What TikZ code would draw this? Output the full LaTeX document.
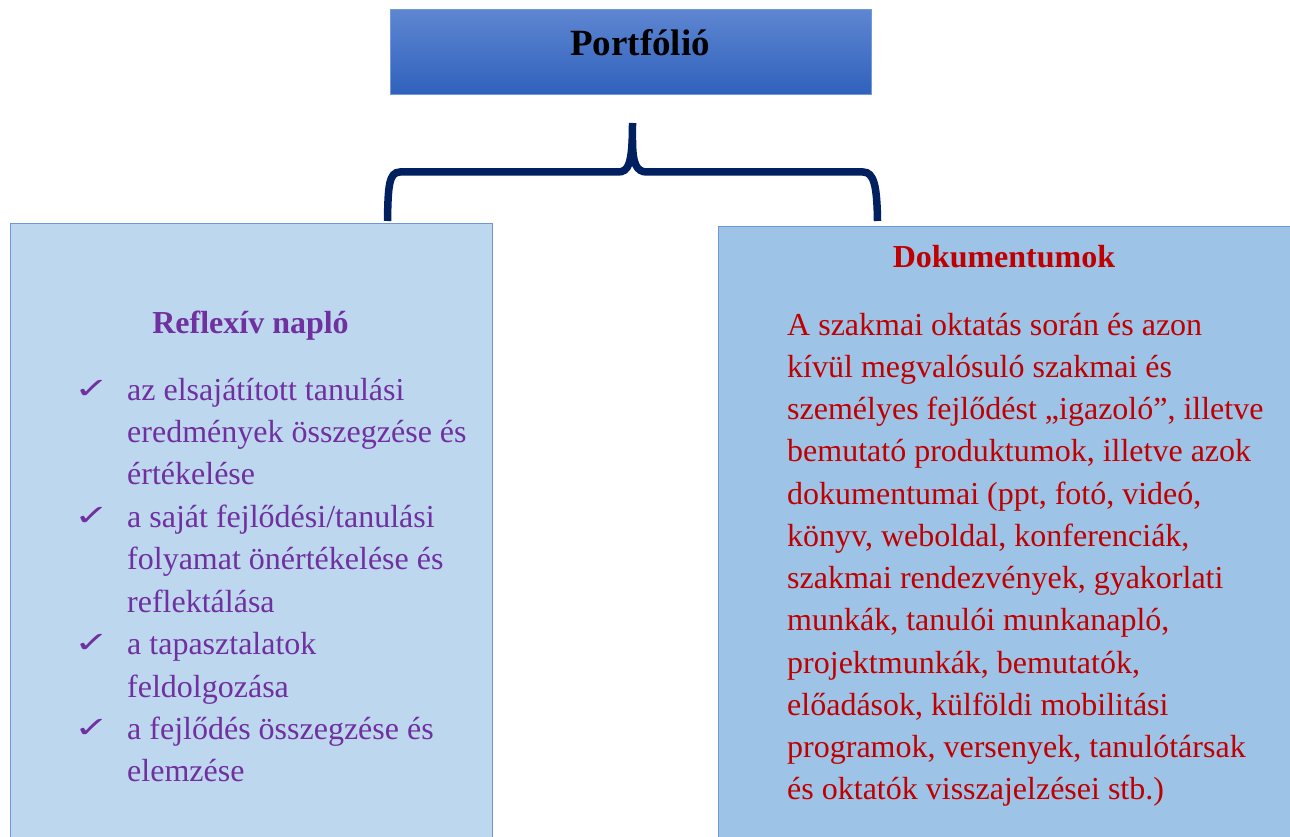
\documentclass[tikz,border=0pt]{standalone}
\usepackage{fontspec}
\setmainfont{Liberation Serif}
\newfontfamily\symfont{DejaVu Sans}
\definecolor{topA}{HTML}{5E86D1}
\definecolor{topB}{HTML}{2F61BC}
\definecolor{topBorder}{HTML}{7199DC}
\definecolor{leftFill}{HTML}{BDD7EE}
\definecolor{rightFill}{HTML}{9DC3E6}
\definecolor{boxBorder}{HTML}{6F96DA}
\definecolor{navy}{HTML}{002060}
\definecolor{purp}{HTML}{7030A0}
\definecolor{darkred}{HTML}{C00000}
\begin{document}
\begin{tikzpicture}[x=1pt,y=-1pt,
  topbox/.style={draw=topBorder, line width=1pt, top color=topA, bottom color=topB,
    minimum width=481pt, minimum height=85pt, inner sep=0pt},
  panel/.style={draw=boxBorder, line width=1.2pt, anchor=north west, inner sep=0pt,
    minimum height=700pt},
  brace/.style={draw=navy, line width=7.5pt},
  titletext/.style={font=\fontsize{37}{44}\selectfont\bfseries, text=black, anchor=base, inner sep=0pt},
  lhead/.style={font=\fontsize{32}{38}\selectfont\bfseries, text=purp, anchor=base, inner sep=0pt},
  rhead/.style={font=\fontsize{32}{38}\selectfont\bfseries, text=darkred, anchor=base, inner sep=0pt},
  ltext/.style={font=\fontsize{32}{38}\selectfont, text=purp, anchor=base west, inner sep=0pt},
  rtext/.style={font=\fontsize{32}{38}\selectfont, text=darkred, anchor=base west, inner sep=0pt},
  checkmark/.style={font=\fontsize{40}{46}\selectfont\symfont, text=purp, anchor=base west, inner sep=0pt}]
\useasboundingbox (0,0) rectangle (1290,837);
\clip (0,0) rectangle (1290,837);
\fill[white] (0,0) rectangle (1290,837);

% top box
\node[topbox] (top) at (630.5,52.5) {};
\node[titletext] (toplabel) at (640,56) {Portfólió};

% panels
\node[panel, fill=leftFill, minimum width=482pt] (left) at (10,223) {};
\node[panel, fill=rightFill, minimum width=600pt] (right) at (718,226) {};

% brace
\coordinate (stem) at (632.5,123);
\coordinate (lfoot) at (387.5,221);
\coordinate (rfoot) at (877.5,221);
\draw[brace] (lfoot) .. controls (388,186) and (389,172) .. (400,172) -- (618,172)
  .. controls (628.5,172) and (632.5,164) .. (stem);
\draw[brace] (632.5,140) .. controls (632.5,164) and (636.5,172) .. (647,172) -- (863,172)
  .. controls (874,172) and (877,186) .. (rfoot);

% headings
\node[lhead] (lh) at (250.5,333) {Reflexív napló};
\node[rhead] (rh) at (1004,267) {Dokumentumok};

% left list
\foreach \t [count=\i from 0] in {
  {az elsajátított tanulási},
  {eredmények összegzése és},
  {értékelése},
  {a saját fejlődési/tanulási},
  {folyamat önértékelése és},
  {reflektálása},
  {a tapasztalatok},
  {feldolgozása},
  {a fejlődés összegzése és},
  {elemzése}}
  \node[ltext] (l\i) at (127,{400+42.44*\i}) {\t};
\foreach \k [count=\j] in {0,3,6,8}
  \node[checkmark] (c\j) at (74,{398+42.44*\k}) {\scalebox{1.05}[0.72]{✓}};

% right text
\foreach \t [count=\i from 0] in {
  {A szakmai oktatás során és azon},
  {kívül megvalósuló szakmai és},
  {személyes fejlődést „igazoló”, illetve},
  {bemutató produktumok, illetve azok},
  {dokumentumai (ppt, fotó, videó,},
  {könyv, weboldal, konferenciák,},
  {szakmai rendezvények, gyakorlati},
  {munkák, tanulói munkanapló,},
  {projektmunkák, bemutatók,},
  {előadások, külföldi mobilitási},
  {programok, versenyek, tanulótársak},
  {és oktatók visszajelzései stb.)}}
  \node[rtext] (r\i) at (787,{335+42.27*\i}) {\t};
\end{tikzpicture}
\end{document}
